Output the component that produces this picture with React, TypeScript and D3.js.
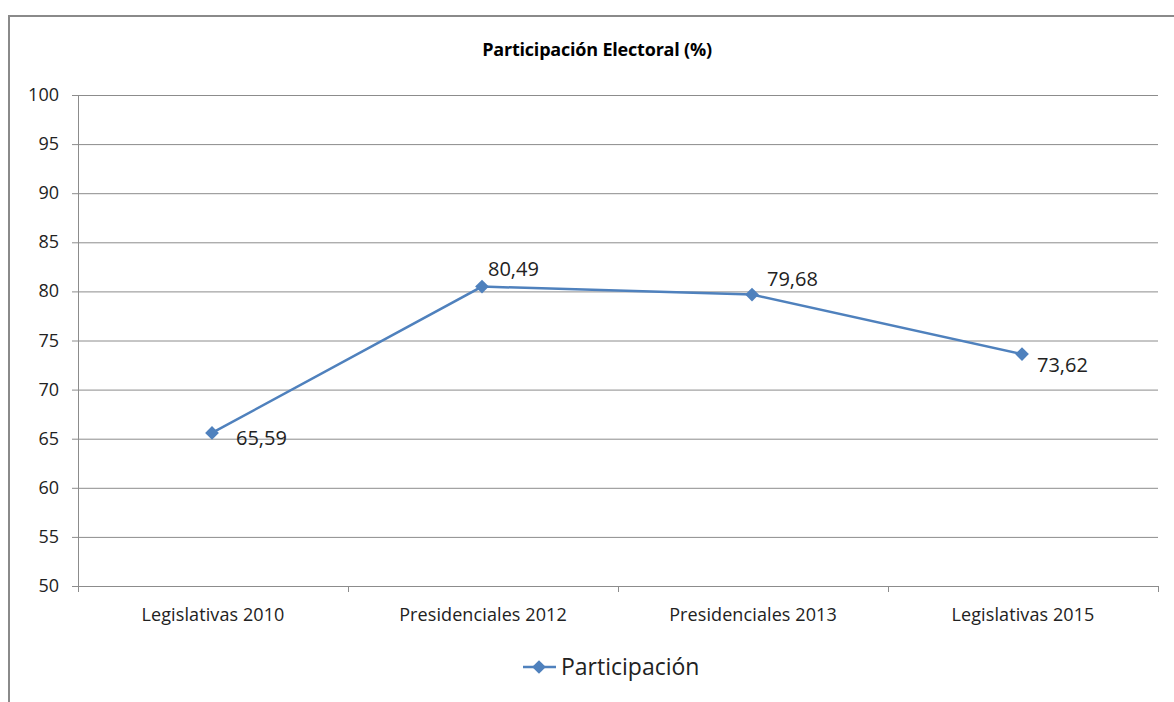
import React, { useEffect, useRef } from 'react'
import * as d3 from 'd3'

// categorías y valores (%)
const categories = ['Legislativas 2010', 'Presidenciales 2012', 'Presidenciales 2013', 'Legislativas 2015']
const values = [65.59, 80.49, 79.68, 73.62]
const yTicks = [50, 55, 60, 65, 70, 75, 80, 85, 90, 95, 100]
const seriesName = 'Participación'
const title = 'Participación Electoral (%)'

const W = 1174, H = 702
const BLUE = '#4f81bd'
const FONT = "'Open Sans', 'Noto Sans', sans-serif"

const App = () => {
    const ref = useRef<SVGSVGElement>(null)

    useEffect(() => {
        const svg = d3.select(ref.current)
        svg.selectAll('*').remove()

        // marco del gráfico
        svg.append('rect').attr('x', 9).attr('y', 16).attr('width', W + 20).attr('height', H + 20)
            .attr('fill', '#fff').attr('stroke', '#8a8a8a').attr('stroke-width', 2)

        const left = 78, right = 1158, top = 95, bottom = 586

        const x = d3.scaleBand().domain(categories).range([left, right])
        const y = d3.scaleLinear().domain([50, 100]).range([bottom, top])

        svg.append('text').attr('x', 597).attr('y', 56).attr('text-anchor', 'middle')
            .attr('font-family', FONT).attr('font-weight', 'bold').attr('font-size', 18)
            .attr('letter-spacing', -0.2)
            .text(title)

        // rejilla
        svg.append('g').selectAll('line').data(yTicks).join('line')
            .attr('x1', left - 6).attr('x2', right)
            .attr('y1', d => y(d) + 0.5).attr('y2', d => y(d) + 0.5)
            .attr('stroke', '#8c8c8c').attr('stroke-width', 1)

        svg.append('line').attr('x1', left + 0.5).attr('x2', left + 0.5).attr('y1', top).attr('y2', bottom + 6)
            .attr('stroke', '#8c8c8c')

        // marcas del eje x
        const edges = categories.map(c => x(c)! + x.bandwidth()).concat([left])
        svg.append('g').selectAll('line').data(edges).join('line')
            .attr('x1', d => d + 0.5).attr('x2', d => d + 0.5)
            .attr('y1', bottom).attr('y2', bottom + 6)
            .attr('stroke', '#8c8c8c')

        svg.append('g').selectAll('text').data(yTicks).join('text')
            .attr('x', left - 19).attr('y', d => y(d) + 6).attr('text-anchor', 'end')
            .attr('font-family', FONT).attr('font-size', 18).attr('fill', '#222')
            .text(d => d)

        svg.append('g').selectAll('text').data(categories).join('text')
            .attr('x', d => x(d)! + x.bandwidth() / 2).attr('y', bottom + 35).attr('text-anchor', 'middle')
            .attr('font-family', FONT).attr('font-size', 18).attr('letter-spacing', 0.1).attr('fill', '#222')
            .text(d => d)

        const cx = (i: number) => x(categories[i])! + x.bandwidth() / 2 - 1
        const line = d3.line<number>().x((d, i) => cx(i)).y(d => y(d))
        svg.append('path').datum(values).attr('d', line)
            .attr('fill', 'none').attr('stroke', BLUE).attr('stroke-width', 2.5)

        const diamond = d3.symbol().type(d3.symbolDiamond2).size(120)
        svg.append('g').selectAll('path').data(values).join('path')
            .attr('transform', (d, i) => `translate(${cx(i)},${y(d)})`)
            .attr('d', diamond()).attr('fill', BLUE)

        // etiquetas de datos (desplazamiento a la derecha, como Excel)
        const labelDx = [24, 6, 15, 15]
        const labelDy = [12, -11, -9, 18]
        svg.append('g').selectAll('text').data(values).join('text')
            .attr('x', (d, i) => cx(i) + labelDx[i]).attr('y', (d, i) => y(d) + labelDy[i])
            .attr('font-family', FONT).attr('font-size', 20).attr('fill', '#222')
            .text(d => d3.format('.2f')(d).replace('.', ','))

        // leyenda
        const lg = svg.append('g').attr('transform', 'translate(523,667)')
        lg.append('line').attr('x1', 0).attr('x2', 33).attr('y1', 0).attr('y2', 0)
            .attr('stroke', BLUE).attr('stroke-width', 2.5)
        lg.append('path').attr('transform', 'translate(16,0)').attr('d', diamond()).attr('fill', BLUE)
        lg.append('text').attr('x', 38).attr('y', 8)
            .attr('font-family', FONT).attr('font-size', 23).attr('fill', '#222')
            .text(seriesName)
    }, [])

    return (
        <svg ref={ref} width={W} height={H}
            style={{ position: 'absolute', left: 0, top: 0, background: '#fff' }} />
    )
}

export default App
